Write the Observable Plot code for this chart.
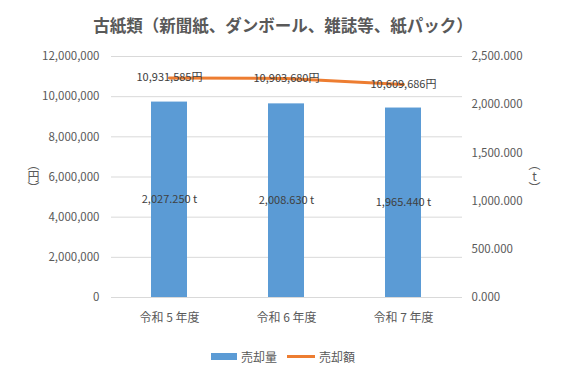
<!DOCTYPE html>
<html lang="ja">
<head>
<meta charset="utf-8">
<script src="https://cdn.jsdelivr.net/npm/d3@7"></script>
<script src="https://cdn.jsdelivr.net/npm/@observablehq/plot@0.6"></script>
<style>
  html, body { margin: 0; padding: 0; background: #fff; }
  body { font-family: "Noto Sans CJK JP", "Noto Sans", sans-serif; }
  #chart { position: relative; width: 566px; height: 381px; overflow: hidden; }
  #title {
    height: 46px; line-height: 50px; text-align: center;
    font-size: 16.5px; font-weight: bold; color: #595959;
  }
  .unit {
    position: absolute; writing-mode: vertical-rl; text-orientation: mixed;
    font-size: 12px; line-height: 14px; color: #595959; top: 158px;
  }
  .unit .up { text-orientation: upright; }
  #legend {
    position: absolute; top: 346px; left: 0; width: 566px; height: 20px;
    display: flex; justify-content: center; align-items: center; gap: 10px;
    font-size: 12px; color: #595959;
  }
  .item { display: flex; align-items: center; gap: 4px; }
  .swatch-bar { width: 26px; height: 7px; background: #5b9bd5; }
  .swatch-line { width: 28px; height: 3px; background: #ed7d31; }
</style>
</head>
<body>
<div id="chart">
  <div id="title">古紙類（新聞紙、ダンボール、雑誌等、紙パック）</div>
  <div class="unit" style="left:26px">（円）</div>
  <div class="unit" style="left:527px">（<span class="up">t</span>）</div>
  <div id="plot"></div>
  <div id="legend">
    <div class="item"><div class="swatch-bar"></div><span>売却量</span></div>
    <div class="item"><div class="swatch-line"></div><span>売却額</span></div>
  </div>
</div>
<script>
// 年度ごとの売却量（t）と売却額（円）
const years = ["令和 5 年度", "令和 6 年度", "令和 7 年度"];
const tons = [2027.25, 2008.63, 1965.44];
const yen = [10931585, 10903680, 10609686];

// 軸の目盛り
const yenTicks = [0, 2000000, 4000000, 6000000, 8000000, 10000000, 12000000];
const tonTicks = [0, 500, 1000, 1500, 2000, 2500];

// 右軸（t）を左軸（円）の座標に合わせる倍率
const yenMax = 12000000, tonMax = 2500;
const ratio = yenMax / tonMax;

const rows = years.map((year, i) => ({year, tons: tons[i], yen: yen[i]}));
const fmtYen = d3.format(",");
const fmtTon = d3.format(",.3f");

const font = "'Noto Sans CJK JP', 'Noto Sans', sans-serif";

const plot = Plot.plot({
  width: 566,
  height: 300,
  marginTop: 10,
  marginBottom: 49,
  marginLeft: 111,
  marginRight: 104,
  style: {fontFamily: font, fontSize: "11px", color: "#595959", background: "transparent"},
  x: {domain: years, paddingInner: 0.69, paddingOuter: 0.345, label: null},
  y: {domain: [0, yenMax], label: null},
  marks: [
    Plot.gridY(yenTicks, {stroke: "#d9d9d9", strokeOpacity: 1}),
    Plot.axisY(yenTicks, {anchor: "left", tickSize: 0, tickPadding: 12, tickFormat: fmtYen, label: null, fontSize: 11.5}),
    Plot.axisY(tonTicks.map(t => t * ratio), {anchor: "right", tickSize: 0, tickPadding: 9, tickFormat: v => fmtTon(v / ratio), label: null, fontSize: 11.5}),
    Plot.axisX({tickSize: 0, tickPadding: 16, label: null, fontSize: 12}),
    Plot.barY(rows, {x: "year", y: d => d.tons * ratio, fill: "#5b9bd5"}),
    Plot.text(rows, {x: "year", y: d => d.tons * ratio / 2, text: d => fmtTon(d.tons) + " t", fill: "#404040", fontSize: 11}),
    Plot.line(rows, {x: "year", y: "yen", stroke: "#ed7d31", strokeWidth: 3, strokeLinecap: "round"}),
    Plot.text(rows, {x: "year", y: "yen", text: d => fmtYen(d.yen) + "円", fill: "#404040", fontSize: 11})
  ]
});
document.getElementById("plot").appendChild(plot);
</script>
</body>
</html>
